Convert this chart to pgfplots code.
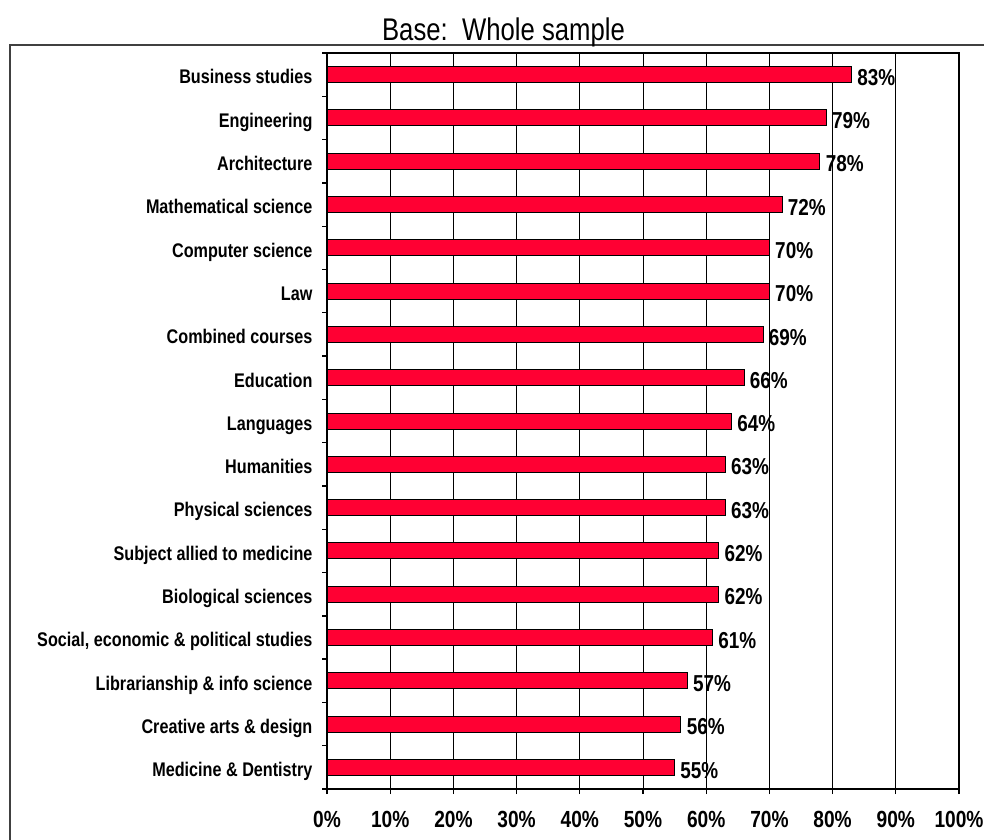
\documentclass[border=0pt]{standalone}
\usepackage{pgfplots}
\pgfplotsset{compat=1.18}
\usepackage{fontspec}
\setmainfont{Liberation Sans}
\newfontfamily\narrowfont[FakeStretch=0.82]{Liberation Sans}
\definecolor{barred}{RGB}{255,0,51}
\begin{document}
\begin{tikzpicture}[x=1pt,y=1pt]
\useasboundingbox (0,0) rectangle (738,-629.25);
\draw[line width=0.9pt, black!75] (7.5,-700) -- (7.5,-33.75) -- (760,-33.75);
\begin{axis}[
  at={(245.25pt,-591.75pt)}, anchor=south west,
  scale only axis, width=474pt, height=552pt,
  xbar, bar width=12pt,
  xmin=0, xmax=100, ymin=-0.5, ymax=16.5, y dir=reverse,
  xtick={0,10,...,100},
  xticklabels={0\%,10\%,20\%,30\%,40\%,50\%,60\%,70\%,80\%,90\%,100\%},
  xtick pos=bottom, ytick pos=left,
  tick align=outside,
  major tick length=3.75pt, minor tick length=3.75pt,
  ytick={0,...,16},
  yticklabels={Business studies,Engineering,Architecture,Mathematical science,Computer science,Law,Combined courses,Education,Languages,Humanities,Physical sciences,Subject allied to medicine,Biological sciences,{Social, economic \& political studies},Librarianship \& info science,Creative arts \& design,Medicine \& Dentistry},
  minor ytick={-0.5,0.5,...,16.5},
  major y tick style={draw=none},
  minor y tick style={draw=black, line width=1pt},
  major x tick style={draw=black, line width=1pt},
  xmajorgrids, ymajorgrids=false,
  major grid style={black, line width=0.75pt},
  axis line style={black, line width=1.2pt},
  xticklabel style={font=\narrowfont\fontsize{17.5}{20}\selectfont\bfseries, anchor=base, inner sep=0pt, yshift=-25pt},
  yticklabel style={font=\narrowfont\fontsize{14.8}{17}\selectfont\bfseries, anchor=base east, inner sep=0pt, xshift=-7pt, yshift=-7pt},
  point meta=x,
  nodes near coords={\pgfmathprintnumber[assume math mode=true]{\pgfplotspointmeta}\%},
  nodes near coords style={font=\narrowfont\fontsize{17.3}{20}\selectfont\bfseries, anchor=base west, inner sep=0pt, xshift=4pt, yshift=-8pt},
]
\addplot[draw=black, line width=0.75pt, fill=barred] table {
x y
83 0
79 1
78 2
72 3
70 4
70 5
69 6
66 7
64 8
63 9
63 10
62 11
62 12
61 13
57 14
56 15
55 16
};
\end{axis}
\node[anchor=base, font=\narrowfont\fontsize{23.5}{27}\selectfont] at (377.6,-30.5) {Base:\ \ Whole sample};
\end{tikzpicture}
\end{document}
